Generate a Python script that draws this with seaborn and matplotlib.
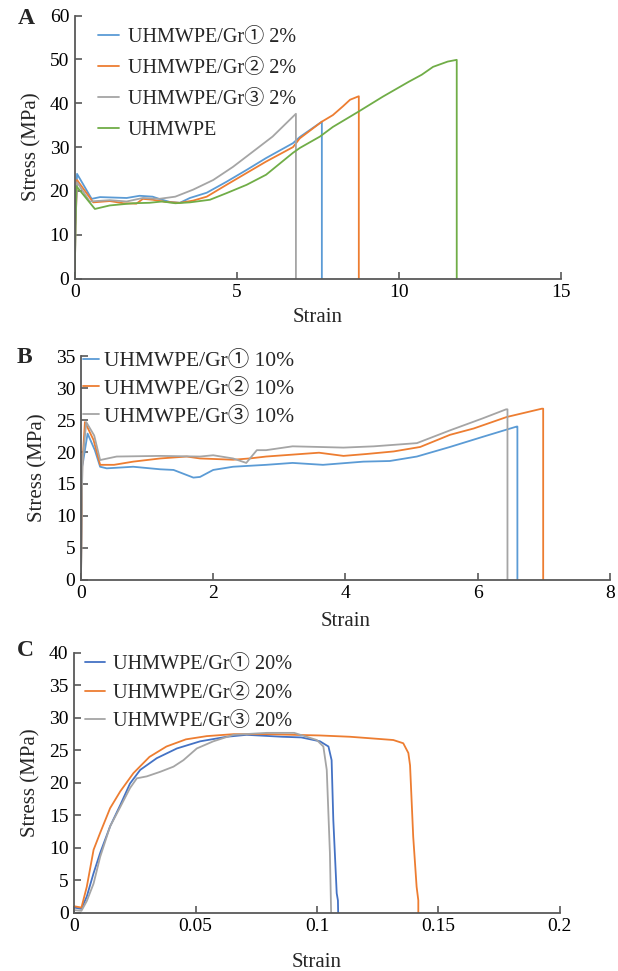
import matplotlib
matplotlib.use("Agg")
import matplotlib.pyplot as plt
import seaborn as sns

# ---- panel A: 2% filler ----
a_labels = ["UHMWPE/Gr① 2%", "UHMWPE/Gr② 2%", "UHMWPE/Gr③ 2%", "UHMWPE"]
a_strain_1 = [0, 0.02, 0.07, 0.52, 0.78, 1.6, 2.0, 2.4, 2.6, 2.93, 3.24, 3.55, 4.07, 4.68, 5.3, 5.9, 6.73, 6.94, 7.62, 7.62]
a_stress_1 = [0, 13, 23.9, 18.2, 18.6, 18.4, 18.9, 18.7, 18.2, 17.5, 17.3, 18.4, 19.6, 22.1, 24.8, 27.5, 30.9, 32.3, 35.8, 0]
a_strain_2 = [0, 0.02, 0.07, 0.57, 1.08, 1.5, 1.9, 2.1, 2.4, 2.8, 3.24, 3.65, 4.07, 4.68, 5.3, 5.9, 6.73, 6.94, 7.62, 7.96, 8.27, 8.49, 8.76, 8.76]
a_stress_2 = [0, 12, 22.5, 17.4, 17.7, 17.2, 17.1, 18.2, 18.0, 17.5, 17.3, 17.8, 18.7, 21.4, 24.1, 26.7, 30.0, 32.0, 35.8, 37.3, 39.3, 40.8, 41.6, 0]
a_strain_3 = [0, 0.02, 0.07, 0.46, 1.08, 1.6, 2.1, 2.6, 3.1, 3.65, 4.27, 4.88, 5.5, 6.1, 6.82, 6.82]
a_stress_3 = [0, 12, 22.0, 17.6, 17.9, 17.6, 18.4, 18.2, 18.7, 20.3, 22.5, 25.5, 29.0, 32.4, 37.6, 0]
a_strain_4 = [0, 0.02, 0.05, 0.62, 1.08, 1.8, 2.3, 2.7, 3.1, 3.55, 4.17, 4.68, 5.3, 5.9, 6.73, 6.94, 7.56, 7.96, 8.73, 9.5, 10.3, 10.7, 11.05, 11.5, 11.78, 11.78]
a_stress_4 = [0, 12, 21.1, 15.9, 16.7, 17.2, 17.3, 17.6, 17.2, 17.4, 18.0, 19.5, 21.4, 23.7, 28.7, 29.8, 32.4, 34.6, 38.0, 41.5, 44.9, 46.5, 48.3, 49.5, 49.9, 0]

# ---- panel B: 10% filler ----
b_labels = ["UHMWPE/Gr① 10%", "UHMWPE/Gr② 10%", "UHMWPE/Gr③ 10%"]
b_strain_1 = [0, 0.02, 0.1, 0.21, 0.29, 0.39, 0.79, 1.2, 1.4, 1.6, 1.7, 1.8, 2.0, 2.3, 2.8, 3.2, 3.66, 4.27, 4.67, 5.08, 5.58, 6.08, 6.59, 6.6, 6.6]
b_stress_1 = [0, 17.7, 22.9, 20.3, 17.7, 17.45, 17.7, 17.3, 17.2, 16.4, 16.0, 16.1, 17.2, 17.7, 18.0, 18.3, 18.0, 18.5, 18.6, 19.3, 20.8, 22.4, 24.0, 24.0, 0]
b_strain_2 = [0, 0.02, 0.06, 0.19, 0.29, 0.5, 0.79, 1.2, 1.6, 1.8, 2.3, 2.55, 2.8, 3.2, 3.6, 3.97, 4.32, 4.73, 5.13, 5.58, 5.94, 6.44, 6.97, 6.99, 6.99]
b_stress_2 = [0, 18, 24.7, 21.9, 18.0, 18.0, 18.5, 19.0, 19.3, 19.0, 18.8, 19.0, 19.3, 19.6, 19.9, 19.4, 19.7, 20.1, 20.8, 22.7, 23.7, 25.5, 26.8, 26.8, 0]
b_strain_3 = [0, 0.02, 0.08, 0.2, 0.29, 0.54, 1.2, 1.8, 2.0, 2.3, 2.5, 2.66, 2.8, 3.2, 3.6, 3.97, 4.43, 5.08, 5.58, 6.08, 6.43, 6.45, 6.45]
b_stress_3 = [0, 18, 24.7, 22.6, 18.75, 19.3, 19.4, 19.3, 19.5, 19.0, 18.3, 20.3, 20.3, 20.9, 20.8, 20.7, 20.9, 21.4, 23.4, 25.3, 26.7, 26.7, 0]

# ---- panel C: 20% filler ----
c_labels = ["UHMWPE/Gr① 20%", "UHMWPE/Gr② 20%", "UHMWPE/Gr③ 20%"]
c_strain_1 = [0, 0.003, 0.0052, 0.008, 0.0107, 0.0148, 0.019, 0.023, 0.0272, 0.034, 0.0423, 0.0519, 0.0628, 0.071, 0.0857, 0.0935, 0.1012, 0.1047, 0.106, 0.1067, 0.1081, 0.1086, 0.1087]
c_stress_1 = [0.8, 0.6, 2.5, 6.1, 9.2, 13.3, 16.6, 19.9, 22.0, 23.8, 25.3, 26.4, 27.1, 27.4, 27.1, 27.0, 26.4, 25.6, 23.5, 14.3, 3.0, 1.9, 0]
c_strain_2 = [0, 0.003, 0.0052, 0.008, 0.0107, 0.0148, 0.019, 0.0244, 0.031, 0.038, 0.046, 0.0546, 0.0656, 0.0793, 0.1012, 0.1136, 0.1314, 0.1355, 0.1376, 0.1383, 0.1396, 0.141, 0.1417, 0.1417]
c_stress_2 = [1.0, 0.8, 4.0, 9.7, 12.3, 16.1, 18.7, 21.5, 24.0, 25.6, 26.7, 27.2, 27.5, 27.5, 27.3, 27.1, 26.6, 26.1, 24.6, 22.7, 11.7, 4.0, 1.9, 0]
c_strain_3 = [0, 0.003, 0.0052, 0.008, 0.0107, 0.0148, 0.019, 0.023, 0.0258, 0.0299, 0.0354, 0.0409, 0.045, 0.0505, 0.0573, 0.0656, 0.0793, 0.0906, 0.0999, 0.1026, 0.104, 0.1053, 0.1058]
c_stress_3 = [0.4, 0.3, 1.8, 4.5, 8.6, 13.3, 16.3, 19.2, 20.7, 21.0, 21.7, 22.5, 23.5, 25.3, 26.4, 27.4, 27.7, 27.7, 26.6, 25.6, 22.0, 9.2, 0]

ab_colors = ["#5B9BD5", "#ED7D31", "#A5A5A5", "#70AD47"]
c_colors = ["#4472C4", "#ED7D31", "#A5A5A5"]

sns.set_style("ticks")
plt.rcParams["font.family"] = ["Liberation Serif", "Noto Sans CJK SC", "DejaVu Sans"]
plt.rcParams["axes.edgecolor"] = "#595959"
plt.rcParams["xtick.color"] = "#595959"
plt.rcParams["ytick.color"] = "#595959"
plt.rcParams["xtick.labelcolor"] = "black"
plt.rcParams["ytick.labelcolor"] = "black"

fig = plt.figure(figsize=(6.18, 9.71), dpi=100)
axA = fig.add_axes([0.121, 0.713, 0.787, 0.271])
axB = fig.add_axes([0.131, 0.403, 0.856, 0.230])
axC = fig.add_axes([0.120, 0.060, 0.786, 0.2675])


def draw(ax, xs, ys, labels, colors):
    for x, y, lab, col in zip(xs, ys, labels, colors):
        sns.lineplot(x=x, y=y, ax=ax, sort=False, estimator=None,
                     color=col, linewidth=1.3, label=lab)


draw(axA, [a_strain_1, a_strain_2, a_strain_3, a_strain_4],
     [a_stress_1, a_stress_2, a_stress_3, a_stress_4], a_labels, ab_colors)
draw(axB, [b_strain_1, b_strain_2, b_strain_3],
     [b_stress_1, b_stress_2, b_stress_3], b_labels, ab_colors)
draw(axC, [c_strain_1, c_strain_2, c_strain_3],
     [c_stress_1, c_stress_2, c_stress_3], c_labels, c_colors)

# ax, xlim, xticks, xticklabels, ylim, yticks, tag, tag pos, legend anchor,
# legend font, handle length, text pad, label spacing, x-label pad
settings = [
    (axA, (0, 15), [0, 5, 10, 15], ["0", "5", "10", "15"], (0, 60), range(0, 61, 10),
     "A", (-0.118, 1.03), (0.032, 0.985), 14.5, 1.0, 0.45, 0.6, 5),
    (axB, (0, 8), [0, 2, 4, 6, 8], ["0", "2", "4", "6", "8"], (0, 35), range(0, 36, 5),
     "B", (-0.122, 1.04), (-0.013, 1.062), 15.5, 0.75, 0.25, 0.36, 7),
    (axC, (0, 0.2), [0, 0.05, 0.1, 0.15, 0.2], ["0", "0.05", "0.1", "0.15", "0.2"], (0, 40), range(0, 41, 5),
     "C", (-0.118, 1.05), (0.006, 1.023), 14.6, 1.0, 0.35, 0.45, 13),
]
for ax, xlim, xt, xtl, ylim, yt, tag, tagpos, anchor, lfs, hl, htp, ls, xpad in settings:
    ax.set_xlim(*xlim)
    ax.set_ylim(*ylim)
    ax.set_xticks(xt)
    ax.set_xticklabels(xtl)
    ax.set_yticks(list(yt))
    sns.despine(ax=ax)
    for s in ["left", "bottom"]:
        ax.spines[s].set_linewidth(1.3)
    ax.tick_params(direction="in", length=5, width=1.2, labelsize=14, pad=4)
    ax.set_xlabel("Strain", fontsize=15, labelpad=xpad)
    ax.set_ylabel("Stress (MPa)", fontsize=15, labelpad=6)
    ax.legend(loc="upper left", bbox_to_anchor=anchor,
              frameon=False, fontsize=lfs, handlelength=hl,
              handletextpad=htp, labelspacing=ls, borderaxespad=0)
    ax.text(tagpos[0], tagpos[1], tag, transform=ax.transAxes, fontsize=17,
            fontweight="bold", va="top", ha="left")

fig.savefig("out.png", dpi=100)
